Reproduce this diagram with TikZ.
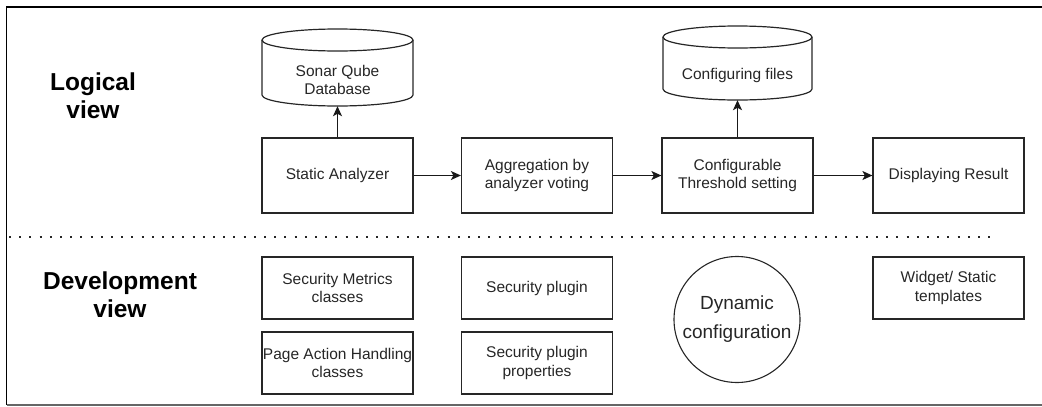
\documentclass[tikz,border=0pt]{standalone}
\usepackage{fontspec}
\setmainfont{Liberation Sans}
\usetikzlibrary{arrows.meta}
\begin{document}
\begin{tikzpicture}[x=1pt,y=-1pt,
  box/.style={draw=black!85, line width=1.2pt, minimum width=151pt, minimum height=75pt, inner sep=0pt, align=center, text=black!85, font=\fontsize{15.5}{18.5}\selectfont},
  devbox/.style={box, minimum height=62pt},
  dbtext/.style={inner sep=0pt, minimum width=151pt, align=center, text=black!85, font=\fontsize{15.5}{18.5}\selectfont},
  cyl/.style={draw=black!85, line width=1.2pt},
  title/.style={align=center, inner sep=0pt, font=\fontsize{24.5}{27.5}\selectfont\bfseries},
  arr/.style={draw=black!90, line width=1.2pt, -{Stealth[length=10pt,width=9pt,inset=2.5pt]}}]
\useasboundingbox (0,0) rectangle (1042,407);
% frame
\draw[line width=1.8pt, black] (6.5,405) -- (6.5,7) -- (1042,7);
\draw[line width=1.3pt, black!60] (6.5,405) -- (1042,405);
% divider
\draw[line width=2pt, black!85, dash pattern=on 2pt off 8.2pt] (9,237) -- (996,237);
% titles
\node[title] (tlog) at (93,95.5) {Logical\\view};
\node[title] (tdev) at (120,294.5) {Development\\view};
% cylinders
\draw[cyl] (262,40) -- (262,95) arc[start angle=180, end angle=360, x radius=75.5pt, y radius=11pt] -- (413,40);
\draw[cyl] (337.5,40) ellipse [x radius=75.5pt, y radius=11pt];
\node[dbtext, minimum height=52pt] (db1) at (337.5,80) {Sonar Qube\\Database};
\draw[cyl] (663,37) -- (663,89) arc[start angle=180, end angle=360, x radius=74.5pt, y radius=11pt] -- (812,37);
\draw[cyl] (737.5,37) ellipse [x radius=74.5pt, y radius=11pt];
\node[dbtext, minimum height=50pt] (db2) at (737.5,75) {Configuring files};
% logical boxes
\node[box] (sa) at (337.5,175.5) {Static Analyzer};
\node[box] (agg) at (537,175.5) {Aggregation by\\analyzer voting};
\node[box] (cfg) at (737.5,175.5) {Configurable\\Threshold setting};
\node[box] (disp) at (948.5,175.5) {Displaying Result};
% arrows
\draw[arr] (sa.north) -- (db1.south);
\draw[arr] (cfg.north) -- (db2.south);
\draw[arr] (sa.east) -- (agg.west);
\draw[arr] (agg.east) -- (cfg.west);
\draw[arr] (cfg.east) -- (disp.west);
% development boxes
\node[devbox] (smc) at (337.5,288) {Security Metrics\\classes};
\node[devbox] (pah) at (337.5,363) {Page Action Handling\\classes};
\node[devbox] (sp) at (537,288) {Security plugin};
\node[devbox] (spp) at (537,363) {Security plugin\\properties};
\node[draw=black!85, line width=1.1pt, circle, minimum size=126pt, inner sep=0pt, align=center, text=black!85, font=\fontsize{19}{29}\selectfont] (dyn) at (737,319.5) {Dynamic\\configuration};
\node[devbox] (wid) at (948.5,288) {Widget/ Static\\templates};
\end{tikzpicture}
\end{document}
